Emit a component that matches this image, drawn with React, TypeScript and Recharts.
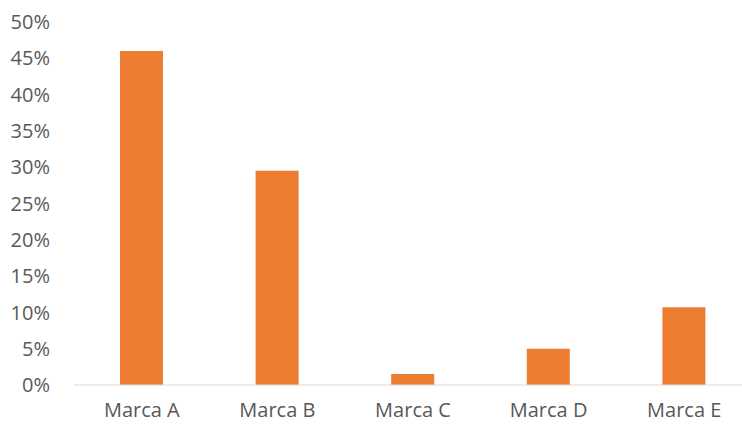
import { BarChart, Bar, XAxis, YAxis } from "recharts";

const marcas = ["Marca A", "Marca B", "Marca C", "Marca D", "Marca E"];
const cuota = [0.46, 0.295, 0.015, 0.05, 0.107];
const yTicks = [0, 0.05, 0.1, 0.15, 0.2, 0.25, 0.3, 0.35, 0.4, 0.45, 0.5];

const data = marcas.map((m, i) => ({ marca: m, valor: cuota[i] }));

const fontFamily = "'Open Sans', 'Noto Sans', sans-serif";
const textColor = "#595959";

export default function App() {
    return (
        <div
            style={{
                position: "absolute",
                top: 0,
                left: 0,
                width: 742,
                height: 426,
                overflow: "hidden",
                background: "#ffffff",
                fontFamily,
            }}
        >
            <BarChart
                width={752}
                height={426}
                data={data}
                margin={{ top: 22, right: 0, left: 0, bottom: 0 }}
                barSize={43}
            >
                <XAxis
                    dataKey="marca"
                    tickLine={false}
                    axisLine={{ stroke: "#d9d9d9", strokeWidth: 1 }}
                    tick={{ fontSize: 20, fill: textColor, fontFamily }}
                    fontSize={20}
                    tickSize={0}
                    tickMargin={18}
                    height={41}
                    interval={0}
                />
                <YAxis
                    domain={[0, 0.5]}
                    ticks={yTicks}
                    interval={0}
                    axisLine={false}
                    tickLine={false}
                    tickSize={0}
                    tickMargin={24}
                    width={74}
                    fontSize={20}
                    tick={{ fontSize: 20, fill: textColor, fontFamily }}
                    tickFormatter={(v: number) => `${Math.round(v * 100)}%`}
                />
                <Bar dataKey="valor" fill="#ed7d31" isAnimationActive={false} />
            </BarChart>
        </div>
    );
}
